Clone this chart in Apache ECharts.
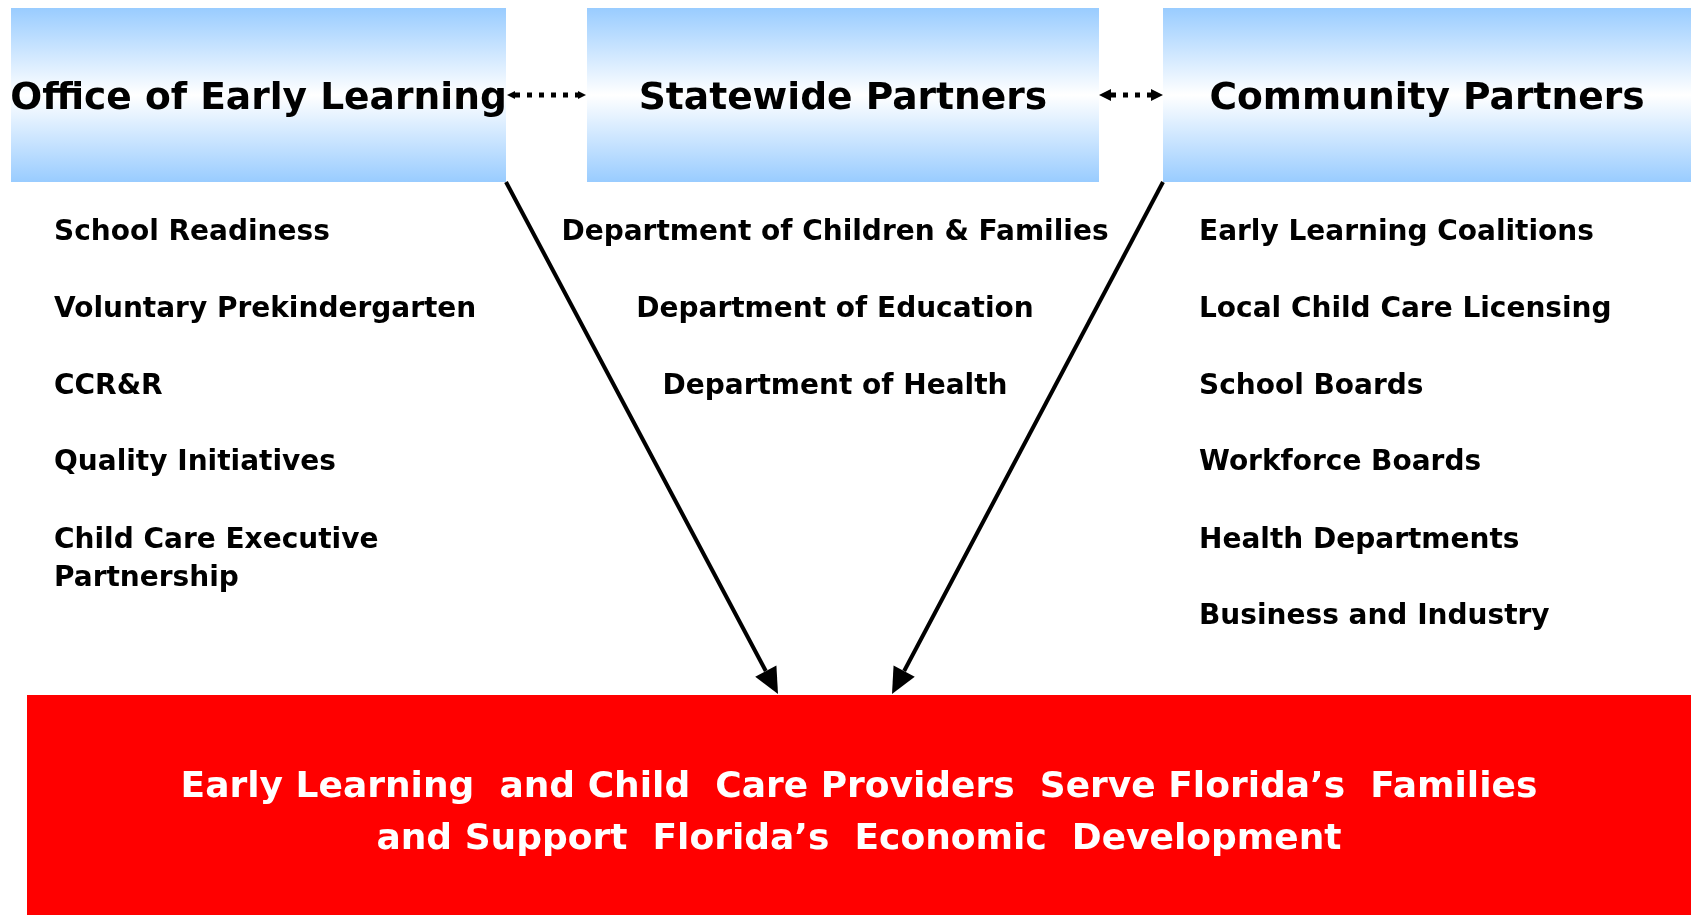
<!DOCTYPE html>
<html>
<head>
<meta charset="utf-8">
<script src="https://cdn.jsdelivr.net/npm/echarts@6/dist/echarts.min.js"></script>
<style>
  html, body { margin: 0; padding: 0; background: #fff; }
  #main { width: 1694px; height: 915px; }
</style>
</head>
<body>
<div id="main"></div>
<script>
// diagram content
const headers = ['Office of Early Learning', 'Statewide Partners', 'Community Partners'];
const officeItems = ['School Readiness', 'Voluntary Prekindergarten', 'CCR&R', 'Quality Initiatives', 'Child Care Executive\nPartnership'];
const statewideItems = ['Department of Children & Families', 'Department of Education', 'Department of Health'];
const communityItems = ['Early Learning Coalitions', 'Local Child Care Licensing', 'School Boards', 'Workforce Boards', 'Health Departments', 'Business and Industry'];
const footerLines = ['Early Learning  and Child  Care Providers  Serve Florida’s  Families', 'and Support  Florida’s  Economic  Development'];

// layout
const boxes = [
  {x: 11, w: 495},
  {x: 587, w: 512},
  {x: 1163, w: 528}
];
const boxTop = 8, boxH = 174;
const rowY = [230, 307, 384, 460, 538, 614];
const footerBox = {x: 27, y: 695, w: 1664, h: 225};

const itemFont = 'bold 28px "DejaVu Sans", Verdana, sans-serif';
const headFont = 'bold 37.6px "DejaVu Sans", Verdana, sans-serif';
const footFont = 'bold 36px "DejaVu Sans", Verdana, sans-serif';

let chart = echarts.init(document.getElementById('main'));

function arrowHead(x1, y1, x2, y2, len, half) {
  let dx = x2 - x1, dy = y2 - y1;
  let d = Math.sqrt(dx * dx + dy * dy);
  let ux = dx / d, uy = dy / d;
  let bx = x2 - ux * len, by = y2 - uy * len;
  return {
    base: [bx, by],
    points: [[x2, y2], [bx + uy * half, by - ux * half], [bx - uy * half, by + ux * half]]
  };
}

// solid arrow with a filled head
function arrow(x1, y1, x2, y2, width, len, half) {
  let h = arrowHead(x1, y1, x2, y2, len, half);
  return [
    {type: 'polyline', shape: {points: [[x1, y1], h.base]}, style: {stroke: '#000', lineWidth: width}},
    {type: 'polygon', shape: {points: h.points}, style: {fill: '#000'}}
  ];
}

// dotted double-headed arrow
function dottedArrow(x1, x2, y, len, half) {
  let a = arrowHead(x2, y, x1, y, len, half);
  let b = arrowHead(x1, y, x2, y, len, half);
  return [
    {type: 'polyline', shape: {points: [a.base, b.base]}, style: {stroke: '#000', lineWidth: 5, lineDash: [5, 7]}},
    {type: 'polygon', shape: {points: a.points}, style: {fill: '#000'}},
    {type: 'polygon', shape: {points: b.points}, style: {fill: '#000'}}
  ];
}

let elements = [];

boxes.forEach(function (b, i) {
  elements.push({
    type: 'rect',
    shape: {x: b.x, y: boxTop, width: b.w, height: boxH},
    style: {
      fill: new echarts.graphic.LinearGradient(0, 0, 0, 1, [
        {offset: 0, color: '#99ccff'},
        {offset: 0.5, color: '#ffffff'},
        {offset: 1, color: '#99ccff'}
      ])
    }
  });
  elements.push({
    type: 'text',
    style: {
      text: headers[i], x: b.x + b.w / 2, y: boxTop + boxH / 2 + 4,
      font: headFont, fill: '#000', textAlign: 'center', textVerticalAlign: 'middle'
    }
  });
});

officeItems.forEach(function (t, i) {
  elements.push({
    type: 'text',
    style: {text: t, x: 54, y: rowY[i] - 16, font: itemFont, fill: '#000', textAlign: 'left', textVerticalAlign: 'top', lineHeight: 38}
  });
});
statewideItems.forEach(function (t, i) {
  elements.push({
    type: 'text',
    style: {text: t, x: 835, y: rowY[i] + 3, font: itemFont, fill: '#000', textAlign: 'center', textVerticalAlign: 'middle'}
  });
});
communityItems.forEach(function (t, i) {
  elements.push({
    type: 'text',
    style: {text: t, x: 1199, y: rowY[i] + 3, font: itemFont, fill: '#000', textAlign: 'left', textVerticalAlign: 'middle'}
  });
});

elements.push({
  type: 'rect',
  shape: {x: footerBox.x, y: footerBox.y, width: footerBox.w, height: footerBox.h},
  style: {fill: '#ff0000'}
});
footerLines.forEach(function (t, i) {
  elements.push({
    type: 'text',
    style: {text: t, x: 859, y: 788 + i * 52, font: footFont, fill: '#fff', textAlign: 'center', textVerticalAlign: 'middle'}
  });
});

elements = elements
  .concat(arrow(506, 182, 778, 694, 4, 26, 12))
  .concat(arrow(1163, 182, 892, 694, 4, 26, 12))
  .concat(dottedArrow(507, 586, 95, 8, 4))
  .concat(dottedArrow(1099, 1163, 95, 12, 6));

let option = {
  backgroundColor: '#fff',
  animation: false,
  graphic: {elements: elements}
};

chart.setOption(option);
</script>
</body>
</html>
